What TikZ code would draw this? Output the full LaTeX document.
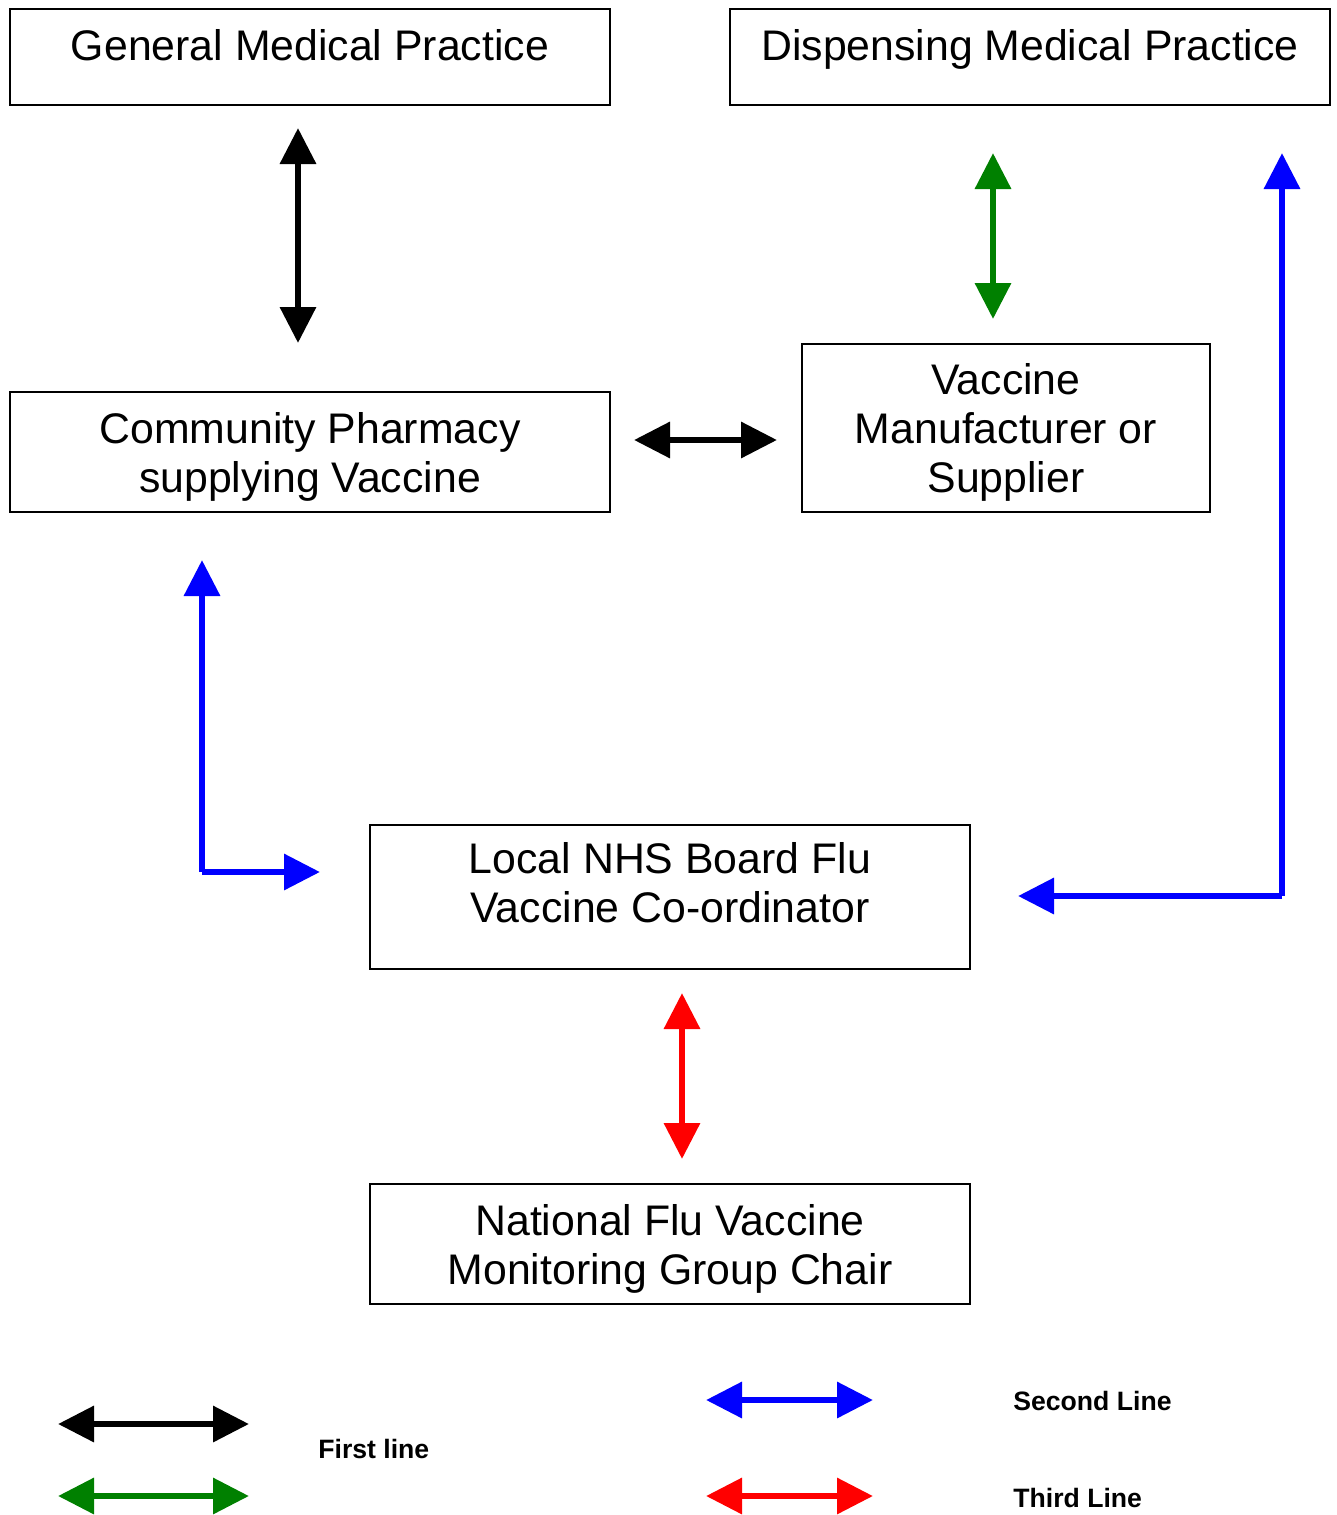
\documentclass[tikz,border=0pt]{standalone}
\usepackage{fontspec}
\setmainfont{Liberation Sans}
\usepackage{tikz}
\usetikzlibrary{arrows.meta}

\begin{document}
\begin{tikzpicture}[x=.5pt,y=-.5pt,
  box/.style={draw=black,line width=0.75pt,inner sep=0pt,align=center,minimum width=300pt,font=\fontsize{21.4}{24.5}\selectfont},
  topbox/.style={box,anchor=north},
  link/.style={line width=3.25pt,{Triangle[length=18pt,width=17.5pt]}-{Triangle[length=18pt,width=17.5pt]}},
  elbow/.style={line width=3.25pt,-{Triangle[length=18pt,width=17.5pt]}},
  key/.style={inner sep=0pt,anchor=base west,font=\bfseries\fontsize{13.3}{16}\selectfont}]
\path[use as bounding box] (0,0) rectangle (1337,1515);
\path[fill=white,draw=none] (0,0) rectangle (1337,1515);
% boxes
\node[topbox,text height=26pt,text depth=22pt] (gmp) at (310,8) {General Medical Practice};
\node[topbox,text height=26pt,text depth=22pt] (dmp) at (1030,8) {Dispensing Medical Practice};
\node[box,minimum height=60pt,text depth=0pt] (cp) at (310,452) {Community Pharmacy\\supplying Vaccine};
\node[box,minimum width=204pt,minimum height=84pt,text depth=0pt] (vms) at (1006,428) {Vaccine\\Manufacturer or\\Supplier};
\node[topbox,text height=49pt,text depth=23pt] (nhs) at (670,824) {Local NHS Board Flu\\Vaccine Co-ordinator};
\node[box,minimum height=60pt,text depth=0pt] (nfv) at (670,1244) {National Flu Vaccine\\Monitoring Group Chair};
% arrow ends
\coordinate (gmp-s) at (298,128);
\coordinate (cp-n) at (298,343);
\coordinate (dmp-s) at (993,153);
\coordinate (vms-n) at (993,319);
\coordinate (cp-e) at (634,440);
\coordinate (vms-w) at (777,440);
\coordinate (cp-s) at (202,560);
\coordinate (nhs-w) at (320,872);
\coordinate (dmp-se) at (1282,153);
\coordinate (nhs-e) at (1018,896);
\coordinate (nhs-s) at (682,993);
\coordinate (nfv-n) at (682,1159);
\draw[link,black] (gmp-s) -- (cp-n);
\draw[link,green!50!black] (dmp-s) -- (vms-n);
\draw[link,black] (cp-e) -- (vms-w);
\draw[elbow,blue] (cp-s |- nhs-w) -- (nhs-w);
\draw[elbow,blue] (cp-s |- nhs-w) -- (cp-s);
\draw[elbow,blue] (dmp-se |- nhs-e) -- (dmp-se);
\draw[elbow,blue] (dmp-se |- nhs-e) -- (nhs-e);
\draw[link,red] (nhs-s) -- (nfv-n);
% legend
\coordinate (k1a) at (58,1424);
\coordinate (k1b) at (249,1424);
\coordinate (k2a) at (58,1496);
\coordinate (k2b) at (249,1496);
\coordinate (k3a) at (706,1400);
\coordinate (k3b) at (873,1400);
\coordinate (k4a) at (706,1496);
\coordinate (k4b) at (873,1496);
\draw[link,black] (k1a) -- (k1b);
\draw[link,green!50!black] (k2a) -- (k2b);
\draw[link,blue] (k3a) -- (k3b);
\draw[link,red] (k4a) -- (k4b);
\node[key] (first) at (318,1458) {First line};
\node[key] (second) at (1013,1410) {Second Line};
\node[key] (third) at (1013,1507) {Third Line};
\end{tikzpicture}
\end{document}
